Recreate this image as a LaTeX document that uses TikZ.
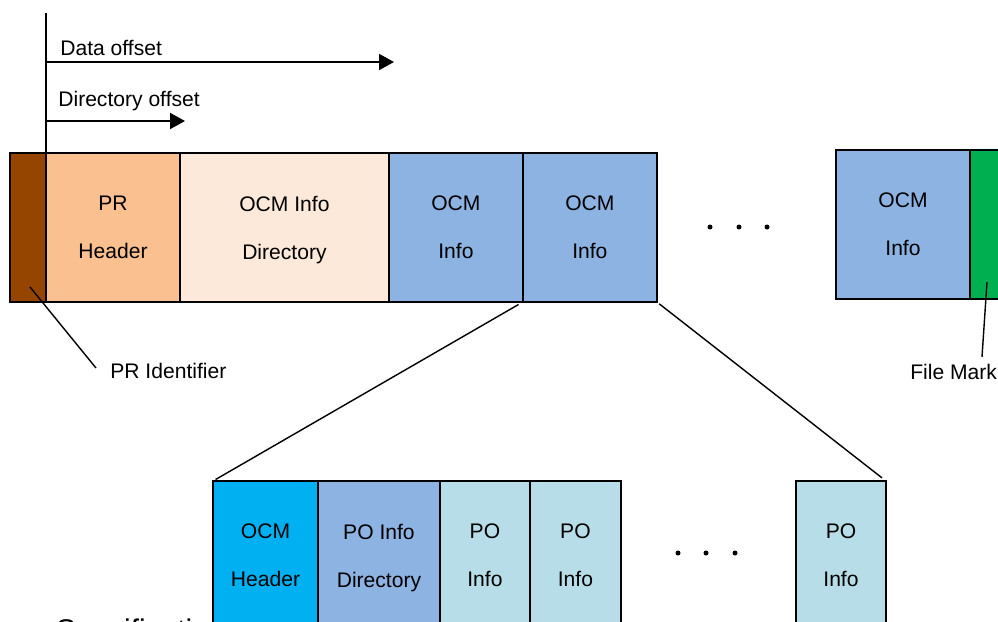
\documentclass[tikz,border=0pt]{standalone}
\usepackage{fontspec}
\setmainfont{Liberation Sans}
\usetikzlibrary{arrows.meta, positioning, calc}

\definecolor{pridcol}{RGB}{149,69,0}
\definecolor{prheadcol}{RGB}{250,192,144}
\definecolor{ocmdircol}{RGB}{253,233,217}
\definecolor{ocminfocol}{RGB}{141,179,226}
\definecolor{ocmheadcol}{RGB}{0,176,240}
\definecolor{poinfocol}{RGB}{183,221,232}
\definecolor{fmarkcol}{RGB}{0,176,80}

\begin{document}
\begin{tikzpicture} [x=0.02cm, y=-0.02cm, node distance=0pt,
  blk/.style={draw, line width=1.1pt, outer sep=0pt, inner sep=0pt,
    minimum height=2.98cm, align=center, font=\fontsize{12}{27.3}\selectfont},
  lbl/.style={inner sep=0pt, font=\fontsize{12}{14}\selectfont},
  ptr/.style={line width=1.1pt, -{Triangle[length=0.3cm, width=0.32cm]}},
  lead/.style={line width=0.8pt}]

\useasboundingbox (0,0) rectangle (998,622);
\clip (0,0) rectangle (998,622);

% slide text behind the boxes
\node (spec) [anchor=base west, inner sep=0pt, font=\fontsize{17}{20}\selectfont] at (37,640) {\textbullet\ Specification};

% top row
\node (prid) [blk, fill=pridcol, minimum width=0.72cm, anchor=north west] at (10,153) {};
\node (prhead) [blk, fill=prheadcol, minimum width=2.68cm, right=of prid] {PR\\Header};
\node (ocmdir) [blk, fill=ocmdircol, minimum width=4.18cm, right=of prhead] {OCM Info\\\leavevmode\smash{Directory}};
\node (ocm1) [blk, fill=ocminfocol, minimum width=2.68cm, right=of ocmdir] {OCM\\Info};
\node (ocm2) [blk, fill=ocminfocol, minimum width=2.68cm, right=of ocm1] {OCM\\Info};
\node (ocmn) [blk, fill=ocminfocol, minimum width=2.68cm, anchor=north west] at (836,150) {OCM\\Info};
\node (fmark) [blk, fill=fmarkcol, minimum width=0.8cm, right=of ocmn] {};

\foreach \x in {710,739,767}
  \fill (\x,227) circle (0.05cm);

% bottom row
\node (ocmhead) [blk, fill=ocmheadcol, minimum width=2.10cm, anchor=north west] at (213,481) {OCM\\Header};
\node (podir) [blk, fill=ocminfocol, minimum width=2.44cm, right=of ocmhead] {PO Info\\\leavevmode\smash{Directory}};
\node (po1) [blk, fill=poinfocol, minimum width=1.80cm, right=of podir] {PO\\Info};
\node (po2) [blk, fill=poinfocol, minimum width=1.82cm, right=of po1] {PO\\Info};
\node (pon) [blk, fill=poinfocol, minimum width=1.80cm, anchor=north west] at (796,481) {PO\\Info};

\foreach \x in {678,706,735}
  \fill (\x,553) circle (0.05cm);

% offsets
\coordinate (origin) at (46,13);
\coordinate (dataend) at (394,62);
\coordinate (dirend) at (185,121);
\draw [line width=1.1pt] (origin) -- (prid.north east);
\draw [ptr] (origin |- dataend) -- (dataend);
\draw [ptr] (origin |- dirend) -- (dirend);
\node (datalbl) [lbl, anchor=west] at (60,48) {Data offset};
\node (dirlbl) [lbl, anchor=west] at (58,101) {Directory offset};

% leaders
\coordinate (pridtip) at (30,287);
\node (pridlbl) [lbl, anchor=west] at (110,371) {PR Identifier};
\draw [lead] (pridtip) -- ($(pridlbl.west)+(-14,-3)$);

\coordinate (fmtip) at (987,282);
\node (fmlbl) [lbl, anchor=west] at (910,372) {File Mark};
\draw [lead] (fmtip) -- ($(fmlbl.north west)+(72,-7)$);

% zoom of one OCM Info
\draw [lead, shorten <=0.1cm, shorten >=0.06cm] (ocm2.south west) -- (ocmhead.north west);
\draw [lead, shorten <=0.06cm, shorten >=0.1cm] (ocm2.south east) -- (pon.north east);
\end{tikzpicture}
\end{document}
